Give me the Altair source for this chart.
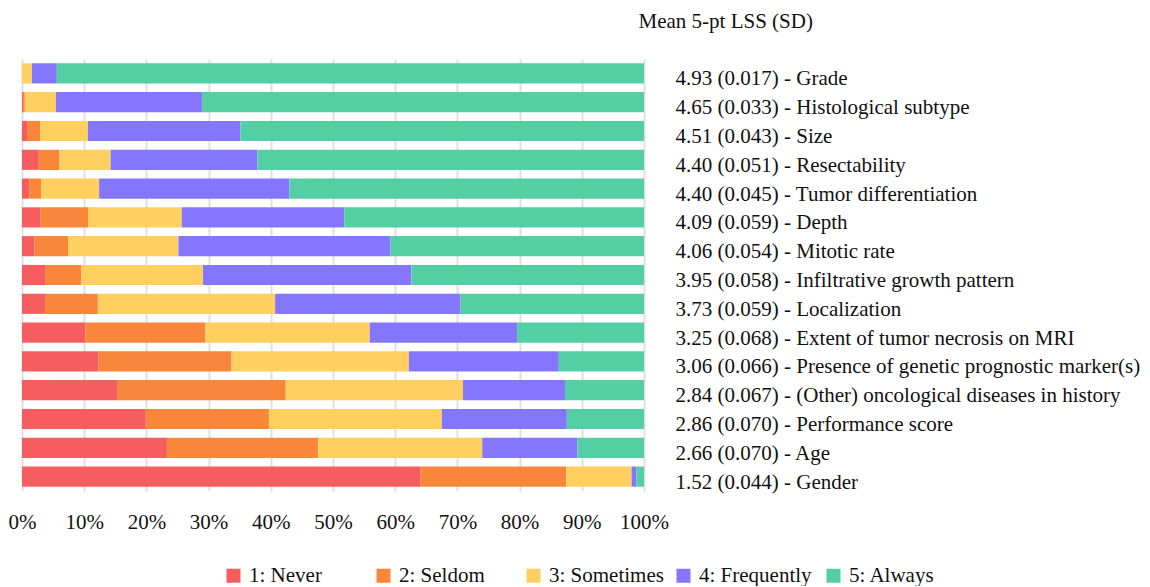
import altair as alt
import pandas as pd

items = ["Grade", "Histological subtype", "Size", "Resectability", "Tumor differentiation",
         "Depth", "Mitotic rate", "Infiltrative growth pattern", "Localization",
         "Extent of tumor necrosis on MRI", "Presence of genetic prognostic marker(s)",
         "(Other) oncological diseases in history", "Performance score", "Age", "Gender"]
means = ["4.93", "4.65", "4.51", "4.40", "4.40", "4.09", "4.06", "3.95", "3.73",
         "3.25", "3.06", "2.84", "2.86", "2.66", "1.52"]
sds = ["0.017", "0.033", "0.043", "0.051", "0.045", "0.059", "0.054", "0.058", "0.059",
       "0.068", "0.066", "0.067", "0.070", "0.070", "0.044"]

levels = ["1: Never", "2: Seldom", "3: Sometimes", "4: Frequently", "5: Always"]
colors = ["#F65D5F", "#F9873B", "#FFD05F", "#8476FE", "#54CEA3"]

never = [0, 0.15, 0.8, 2.7, 1.15, 3.0, 2.0, 3.7, 3.7, 10.2, 12.3, 15.4, 19.9, 23.3, 64.1]
seldom = [0, 0.3, 2.1, 3.25, 1.9, 7.7, 5.4, 5.8, 8.5, 19.3, 21.4, 27.0, 19.8, 24.3, 23.4]
sometimes = [1.6, 5.0, 7.7, 8.3, 9.35, 15.0, 17.75, 19.6, 28.5, 26.4, 28.5, 28.5, 27.8, 26.4, 10.5]
frequently = [4.0, 23.5, 24.5, 23.6, 30.6, 26.1, 34.1, 33.5, 29.8, 23.7, 24.1, 16.4, 20.1, 15.3, 0.8]
always = [94.4, 71.05, 64.9, 62.15, 57.0, 48.2, 40.75, 37.4, 29.5, 20.4, 13.7, 12.7, 12.4, 10.7, 1.2]

series = [never, seldom, sometimes, frequently, always]
labels = [f"{m} ({s}) - {it}" for m, s, it in zip(means, sds, items)]

rows = []
for li, (lev, vals) in enumerate(zip(levels, series)):
    for lab, v in zip(labels, vals):
        rows.append({"label": lab, "level": lev, "order": li, "value": v})
df = pd.DataFrame(rows)

FONT = "Liberation Serif"
FS = 21

chart = alt.Chart(df).mark_bar().encode(
    x=alt.X("value:Q", stack="normalize",
            scale=alt.Scale(domain=[0, 1]),
            axis=alt.Axis(format=".0%", values=[i / 10 for i in range(11)],
                          title=None, ticks=False, domain=False, labelPadding=20,
                          labelFontSize=FS, labelFont=FONT, labelColor="#111",
                          grid=True, gridColor="#e0e0e0", gridWidth=2,
                          labelFlush=False)),
    y=alt.Y("label:N", sort=labels,
            scale=alt.Scale(paddingInner=0.3, paddingOuter=0.15),
            axis=alt.Axis(orient="right", title="Mean 5-pt LSS (SD)",
                          titleAngle=0, titleAlign="left", titleBaseline="alphabetic",
                          titleX=-6, titleY=-32, titleFont=FONT, titleFontSize=FS,
                          titleFontWeight="normal", titleColor="#111",
                          labelFont=FONT, labelFontSize=FS, labelColor="#111",
                          labelLimit=700, labelPadding=31, labelOffset=6,
                          ticks=False, domain=False, grid=False)),
    color=alt.Color("level:N", sort=levels,
                    scale=alt.Scale(domain=levels, range=colors),
                    legend=alt.Legend(title=None, orient="none", direction="horizontal",
                                      legendX=201, legendY=506, columns=5,
                                      gridAlign="all", columnPadding=9,
                                      symbolType="square", symbolSize=196,
                                      symbolStrokeWidth=0, symbolOffset=0,
                                      labelFont=FONT, labelFontSize=FS,
                                      labelColor="#111", labelOffset=5,
                                      labelLimit=300)),
    order=alt.Order("order:Q"),
).properties(
    width=622, height=432,
    padding={"left": 0, "top": 2, "right": 0, "bottom": 0},
).configure_view(stroke=None)

chart.save("out.html", embed_options={"renderer": "svg", "actions": False})
